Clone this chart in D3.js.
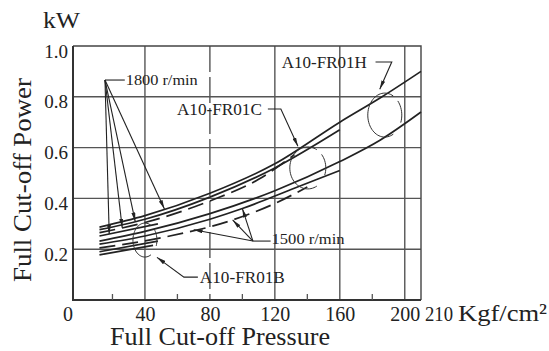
<!DOCTYPE html>
<html>
<head>
<meta charset="utf-8">
<script src="https://cdn.jsdelivr.net/npm/d3@7"></script>
<style>
  body { margin: 0; background: #fff; }
  svg { display: block; }
  text { font-family: "Liberation Serif", "Times New Roman", serif; fill: #222; }
</style>
</head>
<body>
<svg id="chart" width="549" height="351"></svg>
<script>
// axis ticks
const xTicks = [40, 80, 120, 160, 200]
const xMinorTicks = [20, 60, 100, 140, 180]
const yTicks = [0.2, 0.4, 0.6, 0.8, 1.0]

// 1800 r/min curves  [pressure Kgf/cm², power kW]
const h1800 = [[12, 0.287], [40, 0.332], [80, 0.42], [120, 0.536], [160, 0.70], [186, 0.80], [210, 0.90]]
const m1800 = [[12, 0.277], [40, 0.318], [80, 0.405], [120, 0.52], [160, 0.67]]
const c1800 = [[12, 0.265], [40, 0.305], [80, 0.39], [110, 0.475], [132, 0.572]]
const b1800 = [[12, 0.252], [48, 0.30]]

// 1500 r/min curves
const h1500 = [[12, 0.232], [40, 0.27], [80, 0.34], [120, 0.43], [160, 0.545], [185, 0.63], [210, 0.74]]
const m1500 = [[12, 0.22], [40, 0.252], [80, 0.318], [100, 0.36], [130, 0.435], [160, 0.51]]
const c1500 = [[12, 0.205], [50, 0.245], [94, 0.315], [120, 0.38], [140, 0.445]]
const b1500 = [[12, 0.19], [48, 0.232]]
const b1500low = [[12, 0.178], [45, 0.215]]

const curves = [
  { data: h1800, dashed: false },
  { data: m1800, dashed: false },
  { data: c1800, dashed: true },
  { data: b1800, dashed: false },
  { data: h1500, dashed: false },
  { data: m1500, dashed: false },
  { data: c1500, dashed: true },
  { data: b1500, dashed: false },
  { data: b1500low, dashed: false }
]

const margin = { top: 46, right: 128, bottom: 51, left: 73 }
const width = 549 - margin.left - margin.right
const height = 351 - margin.top - margin.bottom

const svg = d3.select('#chart')
const g = svg.append('g')
  .attr('transform', 'translate(' + margin.left + ',' + margin.top + ')')

const x = d3.scaleLinear().domain([-4.3, 210]).range([0, width])
const y = d3.scaleLinear().domain([0, 1]).range([height, 0])

// arrow head
svg.append('defs').append('marker')
  .attr('id', 'arrow')
  .attr('viewBox', '0 0 9 4')
  .attr('refX', 9).attr('refY', 2)
  .attr('markerWidth', 9).attr('markerHeight', 4)
  .attr('markerUnits', 'userSpaceOnUse')
  .attr('orient', 'auto')
  .append('path')
  .attr('d', 'M0,0L9,2L0,4Z')
  .attr('fill', '#222')

// grid
g.selectAll('.vgrid').data(xTicks).join('line')
  .attr('class', 'vgrid')
  .attr('x1', d => x(d)).attr('x2', d => x(d))
  .attr('y1', 0).attr('y2', height)
  .attr('stroke', '#555').attr('stroke-width', 1.4)
  .attr('stroke-dasharray', d => d === 80 ? '26,5' : null)

g.selectAll('.hgrid').data(yTicks.filter(d => d < 1)).join('line')
  .attr('class', 'hgrid')
  .attr('x1', 0).attr('x2', width)
  .attr('y1', d => y(d)).attr('y2', d => y(d))
  .attr('stroke', '#555').attr('stroke-width', 1.4)

// frame: top and right thin, left and bottom heavier
g.append('path')
  .attr('d', 'M0,0H' + width + 'V' + height)
  .attr('fill', 'none').attr('stroke', '#444').attr('stroke-width', 1.4)
g.append('path')
  .attr('d', 'M0,0V' + height + 'H' + width)
  .attr('fill', 'none').attr('stroke', '#333').attr('stroke-width', 2)

g.selectAll('.minor').data(xMinorTicks).join('line')
  .attr('class', 'minor')
  .attr('x1', d => x(d)).attr('x2', d => x(d))
  .attr('y1', height).attr('y2', height - 6)
  .attr('stroke', '#555').attr('stroke-width', 1.3)

// tick labels
const yAxis = g.append('g')
  .call(d3.axisLeft(y).tickValues(yTicks).tickFormat(d3.format('.1f')).tickSize(0).tickPadding(5))
yAxis.select('.domain').remove()
yAxis.selectAll('text')
  .attr('font-size', 19).attr('dy', '0.58em')
  .style('font-family', '"Liberation Serif", serif').attr('fill', '#222')

const xAxis = g.append('g')
  .attr('transform', 'translate(0,' + height + ')')
  .call(d3.axisBottom(x).tickValues(xTicks).tickSize(0).tickPadding(7))
xAxis.select('.domain').remove()
xAxis.selectAll('text')
  .attr('font-size', 20)
  .style('font-family', '"Liberation Serif", serif').attr('fill', '#222')

g.append('text').text('0')
  .attr('x', x(0) - 12).attr('y', height + 21)
  .attr('text-anchor', 'middle').attr('font-size', 20)
g.append('text').text('210')
  .attr('x', x(210) + 4).attr('y', height + 21)
  .attr('font-size', 20).attr('textLength', 28).attr('lengthAdjust', 'spacingAndGlyphs')
g.append('text').text('Kgf/cm²')
  .attr('x', x(210) + 37).attr('y', height + 21)
  .attr('font-size', 24).attr('textLength', 89).attr('lengthAdjust', 'spacingAndGlyphs')

// titles
svg.append('text').text('kW')
  .attr('x', 43).attr('y', 28)
  .attr('font-size', 23).attr('textLength', 37).attr('lengthAdjust', 'spacingAndGlyphs')
svg.append('text').text('Full Cut-off Power')
  .attr('transform', 'translate(31,180) rotate(-90)')
  .attr('text-anchor', 'middle')
  .attr('font-size', 25).attr('textLength', 204).attr('lengthAdjust', 'spacingAndGlyphs')
svg.append('text').text('Full Cut-off Pressure')
  .attr('x', 110).attr('y', 345)
  .attr('font-size', 25).attr('textLength', 220).attr('lengthAdjust', 'spacingAndGlyphs')

// curves
const line = d3.line()
  .x(d => x(d[0]))
  .y(d => y(d[1]))
  .curve(d3.curveMonotoneX)

g.selectAll('.curve').data(curves).join('path')
  .attr('class', 'curve')
  .attr('d', d => line(d.data))
  .attr('fill', 'none')
  .attr('stroke', '#222')
  .attr('stroke-width', 1.7)
  .attr('stroke-dasharray', d => d.dashed ? '16,7' : null)

// power value on a curve at a given pressure
function valueAt (data, p) {
  for (let i = 1; i < data.length; i++) {
    if (p <= data[i][0]) {
      const t = (p - data[i - 1][0]) / (data[i][0] - data[i - 1][0])
      return data[i - 1][1] + t * (data[i][1] - data[i - 1][1])
    }
  }
  return data[data.length - 1][1]
}

// speed callouts
const speedNotes = [
  { text: '1800 r/min', from: [15.4, 0.866], textAt: [28.2, 0.846], width: 72,
    targets: [[b1800, 18], [c1800, 26], [m1800, 34], [h1800, 52]] },
  { text: '1500 r/min', from: [106.5, 0.232], textAt: [118, 0.222], width: 73,
    targets: [[m1500, 100], [c1500, 94], [c1500, 70]] }
]

speedNotes.forEach(n => {
  const fx = x(n.from[0])
  const fy = y(n.from[1])
  g.append('line')
    .attr('x1', fx).attr('x2', x(n.textAt[0]) - 1)
    .attr('y1', fy).attr('y2', fy)
    .attr('stroke', '#222').attr('stroke-width', 1.1)
  n.targets.forEach(t => {
    g.append('line')
      .attr('x1', fx).attr('y1', fy)
      .attr('x2', x(t[1])).attr('y2', y(valueAt(t[0], t[1])))
      .attr('stroke', '#222').attr('stroke-width', 1.1)
      .attr('marker-end', 'url(#arrow)')
  })
  g.append('text').text(n.text)
    .attr('x', x(n.textAt[0])).attr('y', y(n.textAt[1]))
    .attr('font-size', 15.5).attr('textLength', n.width).attr('lengthAdjust', 'spacingAndGlyphs')
})

// model callouts: label, leader and ellipse round the curves
const modelNotes = [
  { text: 'A10-FR01H', textAt: [124.3, 0.913],
    leader: [[182, 0.937], [192, 0.937], [184.6, 0.83]],
    ellipse: { c: [187.7, 0.728], rx: 17, ry: 22 } },
  { text: 'A10-FR01C', textAt: [59.7, 0.728],
    leader: [[115.7, 0.752], [123.7, 0.752], [134.2, 0.605]],
    ellipse: { c: [140.3, 0.52], rx: 18, ry: 21 } },
  { text: 'A10-FR01B', textAt: [73.8, 0.067],
    leader: [[72.6, 0.09], [64, 0.09], [47.4, 0.168]],
    ellipse: { c: [40, 0.236], rx: 12, ry: 17 } }
]

const arcs = [[60, 300], [320, 380]]

modelNotes.forEach(n => {
  g.append('text').text(n.text)
    .attr('x', x(n.textAt[0])).attr('y', y(n.textAt[1]))
    .attr('font-size', 16).attr('textLength', 85).attr('lengthAdjust', 'spacingAndGlyphs')
  g.append('path')
    .attr('d', d3.line().x(d => x(d[0])).y(d => y(d[1]))(n.leader))
    .attr('fill', 'none').attr('stroke', '#222').attr('stroke-width', 1.1)
    .attr('marker-end', 'url(#arrow)')
  const cx = x(n.ellipse.c[0])
  const cy = y(n.ellipse.c[1])
  arcs.forEach(a => {
    const pts = d3.range(a[0], a[1] + 1, 5).map(deg => {
      const r = deg * Math.PI / 180
      return [cx + n.ellipse.rx * Math.cos(r), cy + n.ellipse.ry * Math.sin(r)]
    })
    g.append('path')
      .attr('d', d3.line()(pts))
      .attr('fill', 'none').attr('stroke', '#333').attr('stroke-width', 1)
  })
})
</script>
</body>
</html>
